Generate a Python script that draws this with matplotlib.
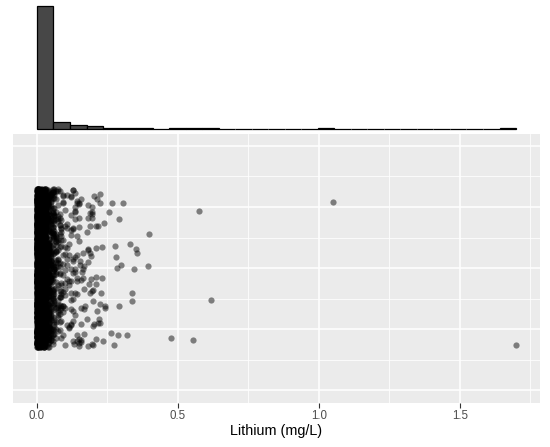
import numpy as np
import matplotlib
matplotlib.use("Agg")
import matplotlib.pyplot as plt

plt.rcParams['font.family'] = ['Liberation Sans', 'DejaVu Sans']

# ---- data (lithium, mg/L) ----
# dense region: value / number of samples
core_values = [0.000, 0.002, 0.004, 0.006, 0.008, 0.010, 0.013, 0.016, 0.020,
               0.024, 0.028, 0.033, 0.038, 0.044, 0.050, 0.056,
               0.062, 0.068, 0.074, 0.080, 0.087, 0.094, 0.101, 0.108, 0.115,
               0.122, 0.128, 0.135, 0.142, 0.150, 0.158, 0.168,
               0.182, 0.195, 0.210, 0.225]
core_counts = [330, 280, 250, 230, 210, 190, 180, 170, 160,
               150, 130, 110, 90, 75, 60, 50,
               30, 25, 22, 19, 16, 13, 10, 8, 6,
               12, 11, 10, 9, 8, 5, 4,
               5, 5, 4, 3]
# individual sparse samples
sparse_values = [0.172, 0.162, 0.154, 0.176, 0.177, 0.157, 0.165, 0.160, 0.154, 0.132, 0.162,
                 0.180, 0.185, 0.189, 0.189, 0.190, 0.188, 0.199, 0.200, 0.200, 0.202, 0.202,
                 0.209, 0.213, 0.213, 0.215, 0.215, 0.222, 0.221, 0.228, 0.230, 0.230,
                 0.187, 0.193, 0.195, 0.198, 0.236,
                 0.242, 0.242, 0.238, 0.255, 0.278, 0.287, 0.284, 0.292, 0.292, 0.266,
                 0.280, 0.274, 0.264,
                 0.298, 0.331, 0.343, 0.319, 0.305, 0.337, 0.337, 0.353,
                 0.356, 0.395, 0.396, 0.474, 0.555, 0.576, 0.618, 1.051, 1.700]

x_label = "Lithium (mg/L)"
x_ticks = [0.0, 0.5, 1.0, 1.5]
x_tick_labels = ["0.0", "0.5", "1.0", "1.5"]

lithium = np.concatenate([np.array(sparse_values), np.repeat(core_values, core_counts)])
n = len(lithium)

# vertical jitter (deterministic hash, plays the role of geom_jitter)
idx = np.arange(n, dtype=float) + 1.0
jit = np.abs(np.sin(idx * 12.9898 + 78.233) * 43758.5453) % 1.0
yj = (jit - 0.5) * 2 * 0.26

W, H = 550, 447
fig = plt.figure(figsize=(W / 100, H / 100), dpi=100)
fig.patch.set_facecolor('white')

xmin, xmax = -0.085, 1.785
left, right = 13, 540
ax = fig.add_axes([left / W, 1 - 402.7 / H, (right - left) / W, 268.7 / H])
axt = fig.add_axes([left / W, 1 - 128.5 / H, (right - left) / W, 128.5 / H])

# ---- main jitter plot ----
ax.set_facecolor('#EBEBEB')
for s in ax.spines.values():
    s.set_visible(False)
ax.set_xlim(xmin, xmax)
ax.set_ylim(-0.4415, 0.4393)
ax.set_xticks(x_ticks)
ax.set_xticklabels(x_tick_labels)
ax.set_xticks([0.25, 0.75, 1.25, 1.75], minor=True)
ax.set_yticks([-0.4, -0.2, 0.0, 0.2, 0.4])
ax.set_yticks([-0.3, -0.1, 0.1, 0.3], minor=True)
ax.set_yticklabels([])
ax.tick_params(axis='y', which='both', length=0)
ax.tick_params(axis='x', which='major', length=3.6, width=0.8, color='#333333',
               labelsize=8.3, labelcolor='#4D4D4D', pad=2.0)
ax.tick_params(axis='x', which='minor', length=0)
ax.grid(True, which='major', color='white', linewidth=1.1)
ax.grid(True, which='minor', color='white', linewidth=0.55)
ax.set_axisbelow(True)
ax.scatter(lithium, yj, s=20, color='black', alpha=0.47, linewidths=0, zorder=3)

fig.text((left + right) / 2 / W, 1 - 430.5 / H, x_label, ha='center', va='center',
         fontsize=10.4, color='black')

# ---- marginal histogram ----
edges = np.linspace(lithium.min(), lithium.max(), 30)
counts, _, patches = axt.hist(lithium, bins=edges, color='#474747', edgecolor='black',
                              linewidth=0.9)
for p in patches:
    p.set_clip_on(False)
axt.set_xlim(xmin, xmax)
axt.set_ylim(0, counts.max() * 1.046)
axt.axis('off')

fig.savefig('out.png', dpi=100)
